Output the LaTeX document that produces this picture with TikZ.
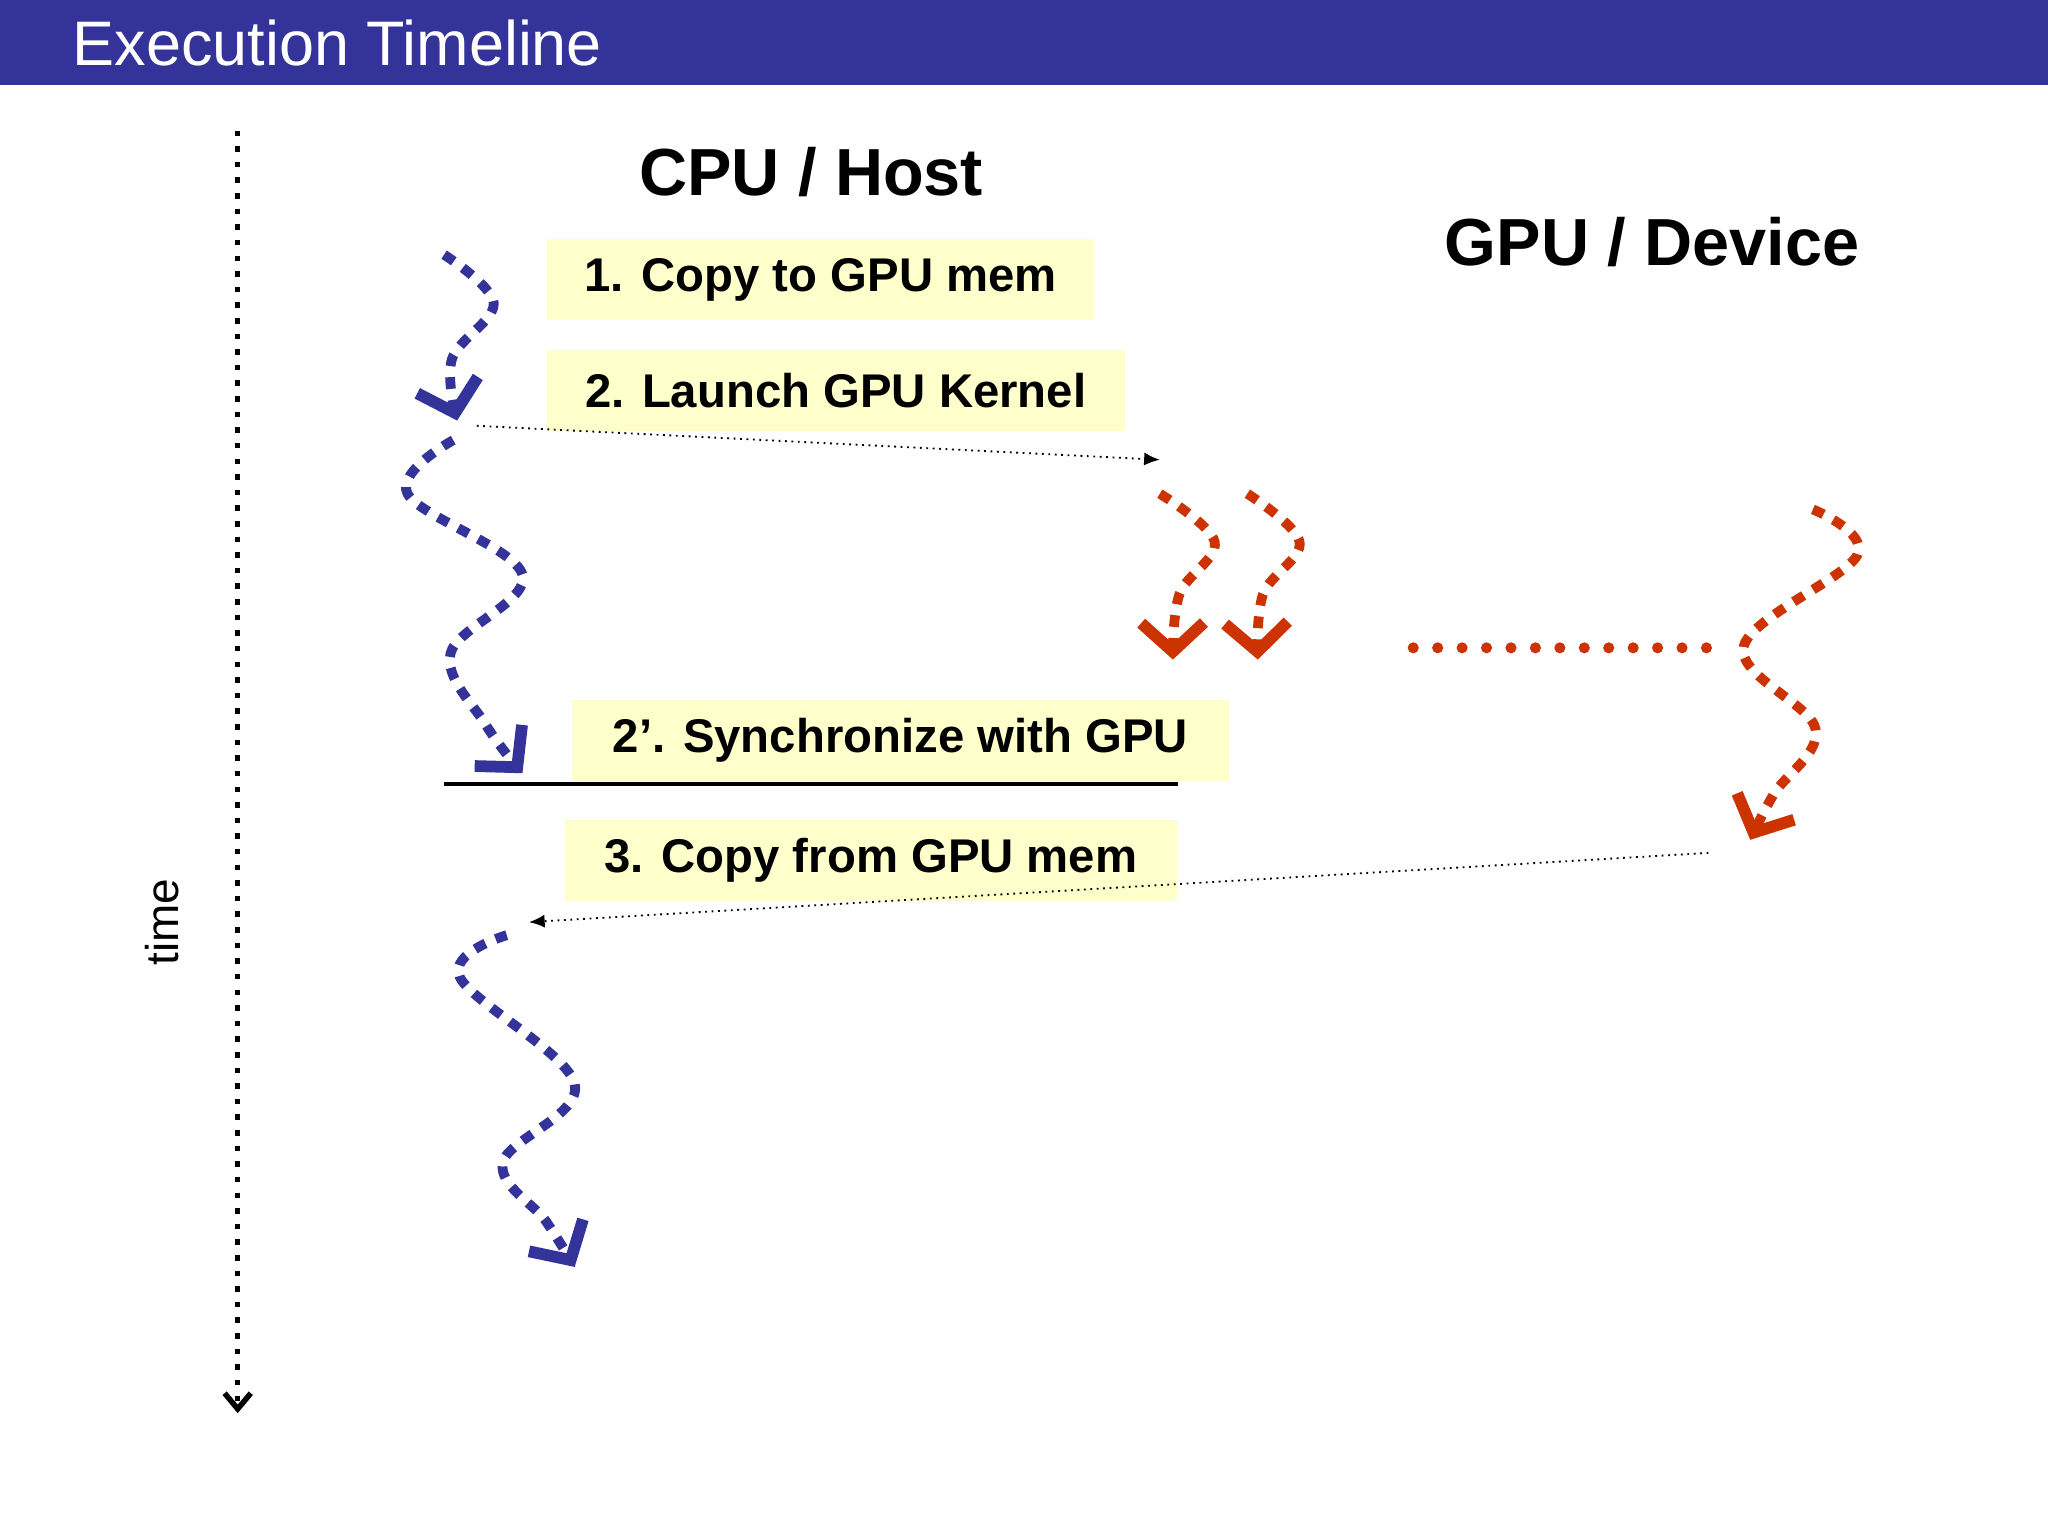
\documentclass[tikz,border=0pt]{standalone}
\usepackage{fontspec}
\setmainfont{Liberation Sans}
\usetikzlibrary{arrows.meta}
\definecolor{navy}{HTML}{333399}
\definecolor{rust}{HTML}{CC3300}
\definecolor{note}{HTML}{FFFFCC}
\begin{document}
\begin{tikzpicture}[x=0.01cm,y=-0.01cm,
  lab/.style={fill=note,font=\fontsize{10.3}{12}\selectfont\bfseries,inner ysep=0,inner xsep=0.17cm,anchor=west,minimum height=0.62cm},
  head/.style={font=\fontsize{14.5}{17}\selectfont\bfseries},
  squig/.style={line width=0.075cm,dash pattern=on 0.09cm off 0.085cm,
     -{Straight Barb[length=0.22cm,width=0.48cm,line width=0.09cm]}},
  msg/.style={densely dotted,line width=0.4pt,-{Latex[length=0.12cm,width=0.1cm]}}]
\useasboundingbox (0,0) rectangle (1568,1176);
\fill[navy] (0,0) rectangle (1568,65);
\node[anchor=west,inner sep=0,text=white,font=\fontsize{13.7}{16}\selectfont] (title) at (55,33) {Execution Timeline};
% time axis
\coordinate (t0) at (182,100); \coordinate (t1) at (182,1082);
\draw[line width=1.2pt,dash pattern=on 1.2pt off 2.2pt,-{Straight Barb[length=0.12cm,width=0.2cm]}] (t0) -- (t1);
\node[rotate=90,font=\fontsize{10}{12}\selectfont] (time) at (124,706) {time};
\node[head] (cpu) at (621,132) {CPU / Host};
\node[head] (gpu) at (1265,185) {GPU / Device};
% labels
\node[lab,minimum width=4.19cm] (l1) at (418,214) {1. Copy to GPU mem};
\node[lab,minimum width=4.42cm] (l2) at (418,299) {2. Launch GPU Kernel};
\node[lab,minimum width=5.03cm] (l3) at (437,567) {2’. Synchronize with GPU};
\node[lab,minimum width=4.68cm] (l4) at (432,659) {3. Copy from GPU mem};
\coordinate (s0) at (340,600); \coordinate (s1) at (902,600);
\draw[line width=0.8pt] (s0) -- (s1);
\coordinate (m1a) at (365,326); \coordinate (m1b) at (888,352);
\draw[msg] (m1a) -- (m1b);
\coordinate (m2a) at (1308,653); \coordinate (m2b) at (405,706);
\draw[msg] (m2a) -- (m2b);
% blue squiggles
\draw[squig,navy] plot[smooth,tension=0.6] coordinates {(340,195) (378,232) (346,275) (350,322)};
\draw[squig,navy] plot[smooth,tension=0.6] coordinates {(347,337) (312,378) (400,440) (345,500) (372,555) (400,592)};
\draw[squig,navy] plot[smooth,tension=0.6] coordinates {(388,716) (352,748) (440,830) (385,890) (418,935) (440,970)};
% red squiggles
\draw[squig,rust] plot[smooth,tension=0.6] coordinates {(888,378) (930,415) (903,455) (898,505)};
\draw[squig,rust] plot[smooth,tension=0.6] coordinates {(955,378) (995,415) (967,455) (963,505)};
\draw[squig,rust] plot[smooth,tension=0.6] coordinates {(1388,390) (1422,425) (1335,495) (1390,558) (1358,608) (1340,643)};
\coordinate (d0) at (1082,496); \coordinate (d1) at (1308,496);
\draw[rust,line width=0.085cm,line cap=round,dash pattern=on 0pt off 0.187cm] (d0) -- (d1);
\end{tikzpicture}
\end{document}
